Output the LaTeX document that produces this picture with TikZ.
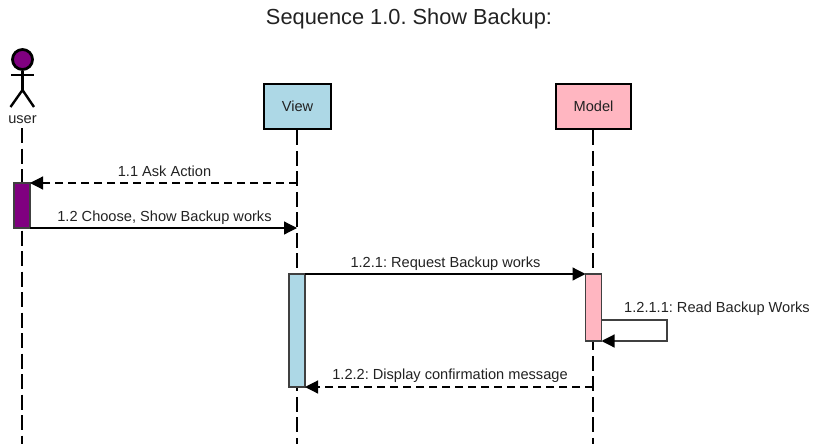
\documentclass[tikz,border=0pt]{standalone}
\usepackage{fontspec}
\setmainfont{Liberation Sans}
\usetikzlibrary{arrows.meta}
\definecolor{lightblue}{HTML}{ADD8E6}
\definecolor{lightpink}{HTML}{FFB6C1}
\definecolor{actorpurple}{HTML}{800080}
\definecolor{msgtext}{HTML}{222222}
\frenchspacing
\begin{document}
\begin{tikzpicture}[x=1pt, y=-1pt]
\tikzset{boite/.style={draw, line width=2.8pt, minimum width=#1, minimum height=45pt, inner sep=0pt, text=msgtext, font=\fontsize{14.6}{16}\selectfont}}
\tikzset{barre/.style={draw, line width=1.4pt, draw=black!75, minimum width=16pt, inner sep=0pt, outer sep=0pt}}
\tikzset{vie/.style={line width=1.6pt, dash pattern=on 15pt off 5.5pt}}
\tikzset{msg/.style={line width=1.2pt, -{Triangle[length=13pt, width=13pt]}}}
\tikzset{retour/.style={msg, dash pattern=on 8pt off 5pt}}
\tikzset{etiq/.style={inner sep=0pt, text=msgtext, font=\fontsize{14.6}{16}\selectfont}}
\useasboundingbox (0, 0) rectangle (818, 444);
\node[inner sep=0pt, font=\fontsize{21.8}{24}\selectfont, text=msgtext] (titre) at (409, 18.5) {Sequence 1.0. Show Backup:};
\node[boite=67pt, fill=lightblue] (V) at (297.5, 106.5) {View};
\node[boite=75pt, fill=lightpink] (M) at (593.5, 106.5) {Model};
\node[etiq] (U) at (22.5, 119.5) {user};
\coordinate (Uhaut) at (22, 128);
\coordinate (Ubas) at (22, 444);
\coordinate (Vbas) at (297, 444);
\coordinate (Mbas) at (593, 444);
\draw[vie] (Uhaut) -- (Ubas);
\draw[vie] (V.south -| Vbas) -- (Vbas);
\draw[vie] (M.south -| Mbas) -- (Mbas);
% actor
\node[draw, circle, line width=2.8pt, fill=actorpurple, minimum size=20pt, inner sep=0pt] (tete) at (22.5, 59.5) {};
\coordinate (bassin) at (22.5, 90);
\coordinate (brasG) at (11, 75);
\coordinate (brasD) at (34, 75);
\coordinate (jambeG) at (10.5, 107);
\coordinate (jambeD) at (34, 107);
\draw[line width=2.4pt] (tete) -- (bassin);
\draw[line width=2.4pt] (brasG) -- (brasD);
\draw[line width=2.4pt] (jambeG) -- (bassin) -- (jambeD);
% activations
\node[barre, fill=actorpurple, minimum height=45pt] (BU) at (22, 205.5) {};
\node[barre, fill=lightblue, minimum height=113pt] (BV) at (297, 330.5) {};
\node[barre, fill=lightpink, minimum height=67pt] (BM) at (593.5, 307.5) {};
\coordinate (V1) at (297, 183);
\coordinate (V2) at (297, 228);
\coordinate (M1) at (593, 387);
\coordinate (boucleA) at (601.5, 320);
\coordinate (boucleB) at (667, 320);
\coordinate (boucleC) at (667, 341);
\draw[retour] (V1) -- (BU.north east);
\draw[msg] (BU.south east) -- (V2);
\draw[msg] (BV.north east) -- (BM.north west);
\draw[msg, draw=black!75, -{Triangle[length=13pt, width=13pt, black]}] (boucleA) -- (boucleB) -- (boucleC) -- (BM.south east);
\draw[retour] (M1) -- (BV.south east);
\node[etiq] (L1) at (164.5, 171.5) {1.1 Ask Action};
\node[etiq] (L2) at (164.5, 218) {1.2 Choose, Show Backup works};
\node[etiq] (L3) at (445.5, 264) {1.2.1: Request Backup works};
\node[etiq] (L4) at (717, 308.5) {1.2.1.1: Read Backup Works};
\node[etiq] (L5) at (450, 375.5) {1.2.2: Display confirmation message};
\end{tikzpicture}
\end{document}
